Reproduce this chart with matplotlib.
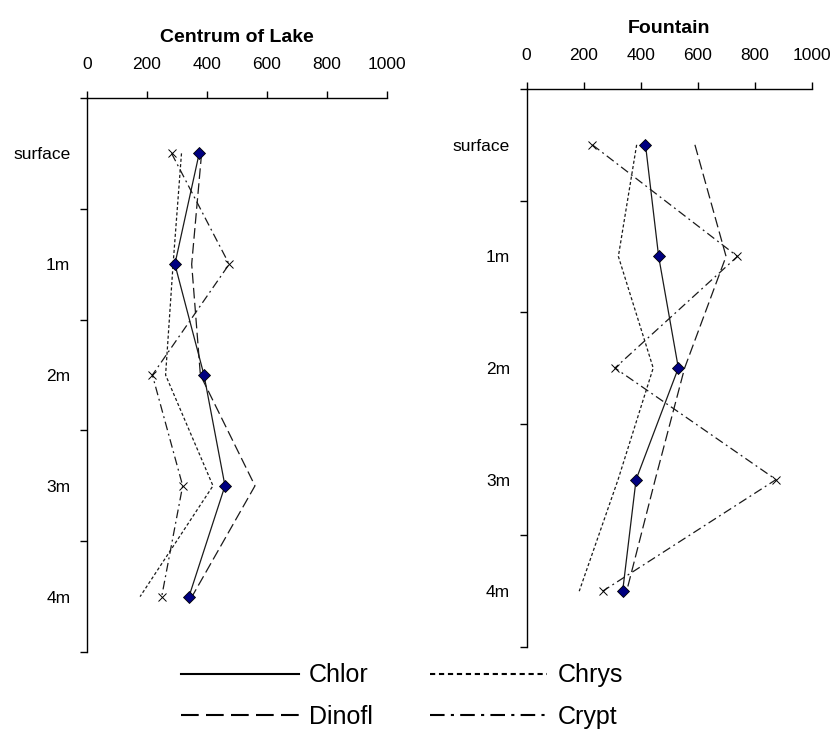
import numpy as np
import matplotlib.pyplot as plt
from matplotlib.lines import Line2D

plt.rcParams['font.family'] = ['Liberation Sans', 'DejaVu Sans']

# depth categories (top to bottom)
depths = ["surface", "1m", "2m", "3m", "4m"]

# Centrum of Lake
lake_chlor = [374, 293, 390, 460, 340]
lake_chrys = [315, 287, 262, 420, 177]
lake_dinofl = [382, 349, 378, 560, 350]
lake_crypt = [282, 474, 218, 319, 249]

# Fountain
fount_chlor = [416, 462, 531, 383, 336]
fount_chrys = [385, 321, 443, 320, 184]
fount_dinofl = [589, 698, 553, 450, 350]
fount_crypt = [230, 738, 309, 873, 266]

styles = {
    "Chlor": dict(ls="-", marker="D", ms=6, mfc="#000080", mec="black", mew=0.6, zorder=5),
    "Dinofl": dict(ls=(0, (8.5, 3.5)), marker=None, zorder=3),
    "Chrys": dict(ls=(0, (2.5, 1.8)), marker=None, zorder=3),
    "Crypt": dict(ls=(0, (7, 3, 1.5, 3)), marker="x", ms=6, mec="black", mew=0.7, zorder=4),
}

fig = plt.figure(figsize=(8.34, 7.29), dpi=100)
ax1 = fig.add_axes([0.1043, 0.1056, 0.3597, 0.760])
ax2 = fig.add_axes([0.6315, 0.1125, 0.3425, 0.7654])

panels = [
    (ax1, "Centrum of Lake", [lake_chlor, lake_dinofl, lake_chrys, lake_crypt]),
    (ax2, "Fountain", [fount_chlor, fount_dinofl, fount_chrys, fount_crypt]),
]
names = ["Chlor", "Dinofl", "Chrys", "Crypt"]
ypos = np.arange(len(depths))

for ax, title, series in panels:
    for name, vals in zip(names, series):
        ax.plot(vals, ypos, color="#1a1a1a", lw=0.9, label=name, **styles[name])

    ax.set_xlim(0, 1000)
    ax.set_ylim(len(depths) - 0.5, -0.5)
    ax.xaxis.tick_top()
    ax.set_xticks(np.arange(0, 1001, 200))
    ax.tick_params(axis="x", direction="out", length=5, width=1, pad=14, labelsize=12.5)

    ax.set_yticks(np.arange(-0.5, len(depths), 1.0))
    ax.set_yticklabels([])
    ax.tick_params(axis="y", which="major", direction="out", length=5, width=1)
    ax.set_yticks(ypos, minor=True)
    ax.set_yticklabels(depths, minor=True)
    ax.tick_params(axis="y", which="minor", length=0, pad=12, labelsize=12.5)

    for s in ["right", "bottom"]:
        ax.spines[s].set_visible(False)
    for s in ["left", "top"]:
        ax.spines[s].set_linewidth(1.0)

    ax.set_title(title, fontsize=14, fontweight="bold", pad=40)

handles = [Line2D([], [], color="black", lw=1.5, ls=styles[n]["ls"]) for n in names]
fig.legend(handles, names, loc="center", bbox_to_anchor=(0.482, 0.045), ncol=2,
           frameon=False, fontsize=18, handlelength=4.7, handletextpad=0.4,
           columnspacing=2.3, labelspacing=0.7)

fig.savefig("out.png", dpi=100)
